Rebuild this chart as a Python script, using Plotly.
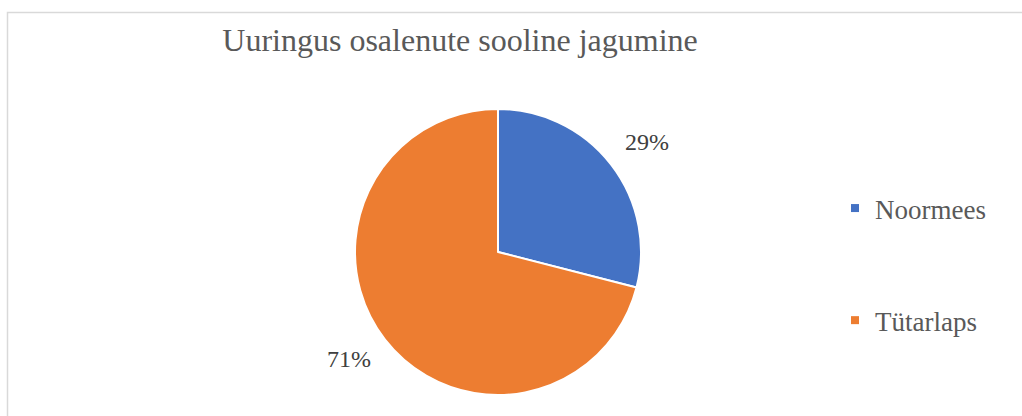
import math
import plotly.graph_objects as go

categories = ["Noormees", "Tütarlaps"]
values = [29, 71]
colors = ["#4472C4", "#ED7D31"]
title_text = "Uuringus osalenute sooline jagumine"

W, H = 1022, 416
# pie geometry (pixels)
cx, cy, R = 498, 252, 143

fig = go.Figure()

fig.add_trace(go.Pie(
    labels=categories,
    values=values,
    sort=False,
    direction="clockwise",
    rotation=0,
    marker=dict(colors=colors, line=dict(color="white", width=2)),
    textinfo="none",
    showlegend=False,
    hoverinfo="label+percent",
    domain=dict(x=[(cx - R) / W, (cx + R) / W], y=[(H - cy - R) / H, (H - cy + R) / H]),
))

# percentage labels placed radially outside each slice, derived from the values
total = sum(values)
cum = 0
annotations = []
for v in values:
    frac = (cum + v / 2) / total
    cum += v
    th = 2 * math.pi * frac
    r = 1.32 * R
    px = cx + r * math.sin(th)
    py = cy + 6 - r * math.cos(th)
    annotations.append(dict(
        x=px / W, y=1 - py / H, xref="paper", yref="paper",
        text=f"{round(100 * v / total)}%", showarrow=False,
        font=dict(family="Liberation Serif", size=24, color="#404040"),
    ))

for i, (cat, col) in enumerate(zip(categories, colors)):
    fig.add_trace(go.Scatter(
        x=[None], y=[None], mode="markers", name=cat,
        marker=dict(symbol="square", size=8, color=col),
        legendgroup=f"g{i}", showlegend=True,
    ))

fig.update_layout(
    width=W, height=H,
    margin=dict(l=0, r=0, t=0, b=0),
    paper_bgcolor="white", plot_bgcolor="white",
    title=dict(text=title_text, x=460 / W, xanchor="center", y=1 - 40 / H, yanchor="middle",
               font=dict(family="Liberation Serif", size=32, color="#595959")),
    xaxis=dict(visible=False), yaxis=dict(visible=False),
    legend=dict(x=835 / W, xanchor="left", y=1 - 184 / H, yanchor="top",
                font=dict(family="Liberation Serif", size=27, color="#595959"),
                tracegroupgap=74, bgcolor="rgba(0,0,0,0)"),
    annotations=annotations,
    shapes=[dict(type="rect", xref="paper", yref="paper",
                 x0=7.5 / W, x1=1.05, y0=-0.1, y1=1 - 12.5 / H,
                 line=dict(color="#D9D9D9", width=1.5), layer="below")],
)

fig.write_html("out.html", config={"displayModeBar": False},
               post_script="document.body.style.margin='0';")
